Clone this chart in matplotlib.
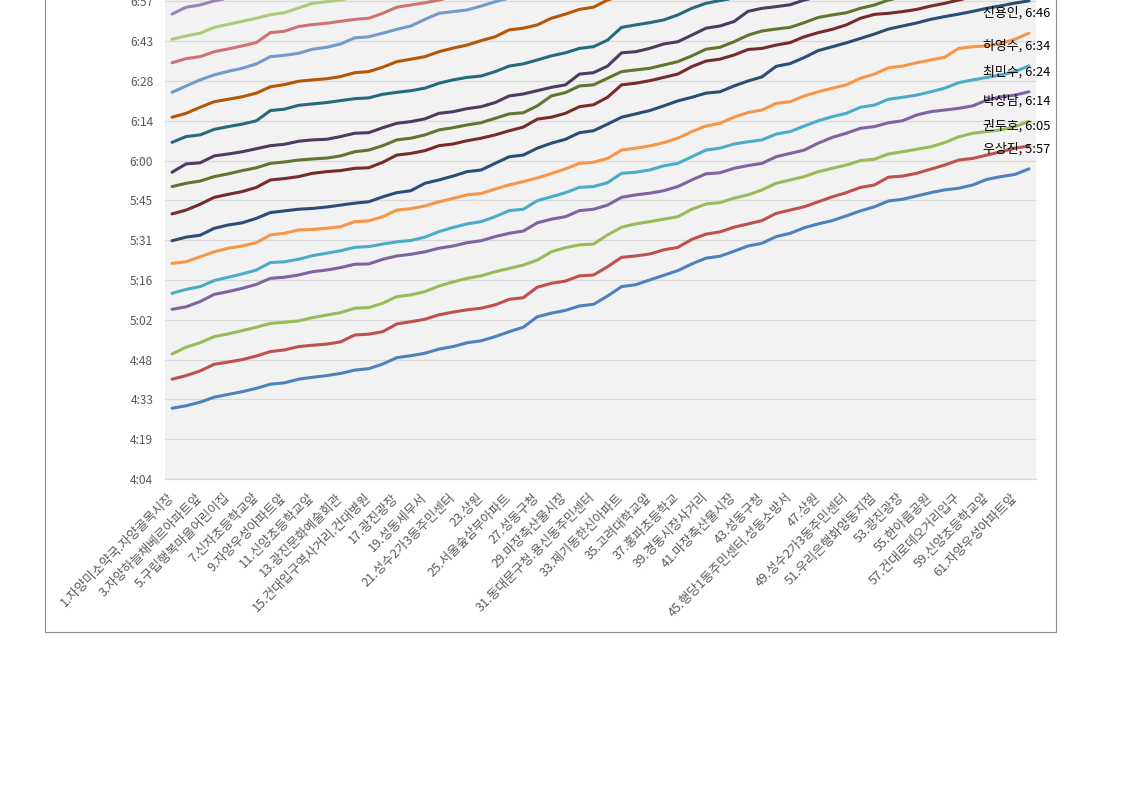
import matplotlib
matplotlib.use("Agg")
import matplotlib.pyplot as plt
from matplotlib.patches import Rectangle
from matplotlib.ticker import FuncFormatter, MultipleLocator

plt.rcParams['font.family'] = ['Noto Sans CJK KR', 'DejaVu Sans']

# stop labels (only odd-numbered stops are labelled on the axis)
stop_labels = [
    "1.자양미소약국.자양골목시장", "3.자양하늘채베르아파트앞", "5.구립행복마을어린이집",
    "7.신자초등학교앞", "9.자양우성아파트앞", "11.신양초등학교앞", "13.광진문화예술회관",
    "15.건대입구역사거리.건대병원", "17.광진광장", "19.성동세무서", "21.성수2가3동주민센터",
    "23.상원", "25.서울숲삼부아파트", "27.성동구청", "29.마장축산물시장",
    "31.동대문구청.용신동주민센터", "33.제기동한신아파트", "35.고려대학교앞", "37.홍파초등학교",
    "39.경동시장사거리", "41.마장축산물시장", "43.성동구청", "45.행당1동주민센터.성동소방서",
    "47.상원", "49.성수2가3동주민센터", "51.우리은행화양동지점", "53.광진광장", "55.한아름공원",
    "57.건대로데오거리입구", "59.신양초등학교앞", "61.자양우성아파트앞",
]
n_stops = 62

# arrival times in minutes after midnight, per bus run (bottom run first);
# runs that leave the top of the picture are only given up to that point
run1 = [270.4, 271.3, 272.6, 274.4, 275.4, 276.4, 277.6, 279.1, 279.6, 280.9,
        281.6, 282.2, 283.0, 284.2, 284.7, 286.4, 288.7, 289.4, 290.3, 291.8,
        292.7, 294.1, 294.8, 296.3, 298.1, 299.7, 303.5, 304.8, 305.8, 307.4,
        308.0, 311.0, 314.4, 315.1, 316.8, 318.5, 320.2, 322.6, 324.7, 325.4,
        327.2, 329.1, 330.1, 332.5, 333.7, 335.7, 337.1, 338.3, 340.0, 341.8,
        343.3, 345.4, 346.0, 347.2, 348.4, 349.4, 350.0, 351.2, 353.2, 354.2,
        355.0, 357.0]
run2 = [280.9, 282.2, 283.9, 286.3, 287.1, 288.0, 289.3, 290.9, 291.5, 292.7,
        293.2, 293.6, 294.4, 296.9, 297.2, 298.1, 300.9, 301.7, 302.6, 304.2,
        305.2, 306.0, 306.6, 307.8, 309.8, 310.4, 314.2, 315.6, 316.4, 318.3,
        318.6, 321.6, 325.0, 325.5, 326.2, 327.7, 328.6, 331.5, 333.4, 334.2,
        335.9, 337.1, 338.3, 340.9, 342.1, 343.3, 345.1, 346.9, 348.4, 350.3,
        351.2, 354.0, 354.4, 355.4, 356.9, 358.4, 360.2, 360.8, 362.0, 363.2,
        364.5, 365.3]
run3 = [290.0, 292.5, 294.1, 296.3, 297.3, 298.5, 299.7, 301.1, 301.5, 302.0,
        303.2, 304.1, 305.0, 306.6, 306.8, 308.4, 310.8, 311.4, 312.6, 314.6,
        316.1, 317.4, 318.3, 319.8, 321.0, 322.2, 324.0, 327.0, 328.5, 329.5,
        329.8, 333.1, 335.9, 337.1, 337.9, 338.8, 339.7, 342.4, 344.3, 344.8,
        346.4, 347.6, 349.4, 351.8, 353.0, 354.2, 356.0, 357.2, 358.4, 360.0,
        360.5, 362.4, 363.2, 364.1, 365.0, 366.5, 368.6, 369.9, 370.5, 371.1,
        372.3, 374.2]
run4 = [306.2, 307.1, 309.0, 311.6, 312.6, 313.8, 315.2, 317.4, 317.8, 318.6,
        319.8, 320.4, 321.3, 322.5, 322.6, 324.3, 325.5, 326.1, 327.0, 328.3,
        329.1, 330.3, 331.0, 332.5, 333.7, 334.5, 337.5, 338.8, 339.7, 341.9,
        342.4, 343.9, 346.7, 347.6, 348.2, 349.1, 350.6, 353.0, 355.2, 355.6,
        357.2, 358.2, 359.0, 361.4, 362.6, 363.8, 366.3, 368.4, 369.9, 371.7,
        372.3, 373.7, 374.4, 376.5, 377.7, 378.3, 378.9, 379.8, 381.9, 383.1,
        383.7, 384.9]
run5 = [312.0, 313.4, 314.4, 316.6, 317.8, 319.0, 320.4, 323.1, 323.4, 324.3,
        325.6, 326.5, 327.4, 328.6, 328.9, 329.8, 330.6, 331.1, 332.3, 334.3,
        335.8, 337.1, 337.9, 339.7, 341.9, 342.4, 345.5, 346.9, 348.4, 350.3,
        350.6, 352.0, 355.4, 355.8, 356.6, 358.1, 359.0, 361.4, 363.8, 364.5,
        366.0, 366.8, 367.5, 369.6, 370.5, 372.5, 374.4, 375.9, 377.1, 379.3,
        380.1, 382.2, 382.9, 383.7, 384.9, 386.2, 388.2, 389.2, 390.1, 391.0,
        392.2, 394.3]
run6 = [322.8, 323.4, 325.2, 327.0, 328.3, 329.1, 330.3, 333.1, 333.7, 334.9,
        335.1, 335.5, 336.1, 337.9, 338.2, 339.7, 342.1, 342.6, 343.6, 345.1,
        346.3, 347.6, 348.1, 349.7, 351.2, 352.4, 353.7, 355.3, 357.0, 359.0,
        359.4, 360.8, 363.8, 364.5, 365.3, 366.5, 368.1, 370.5, 372.5, 373.5,
        375.7, 377.4, 378.3, 380.7, 381.3, 383.4, 384.9, 386.2, 387.4, 389.8,
        391.3, 393.6, 394.2, 395.4, 396.4, 397.4, 400.6, 401.2, 401.5, 402.4,
        403.9, 406.1]
run7 = [331.0, 332.3, 333.0, 335.5, 336.7, 337.5, 339.1, 341.2, 341.8, 342.4,
        342.7, 343.2, 343.9, 344.6, 345.1, 346.9, 348.4, 349.1, 351.8, 353.0,
        354.4, 356.0, 356.6, 359.0, 361.4, 362.0, 364.5, 366.3, 367.7, 370.1,
        370.8, 373.2, 375.7, 376.9, 378.1, 379.8, 381.6, 382.9, 384.4, 384.9,
        387.0, 388.8, 390.3, 394.1, 395.1, 397.3, 399.8, 401.2, 402.6, 404.2,
        405.8, 407.6, 408.7, 409.8, 411.1, 412.1, 413.0, 414.0, 415.1, 416.0,
        417.0, 417.8]
run8 = [340.7, 342.1, 344.2, 346.7, 347.8, 348.8, 350.3, 353.0, 353.5, 354.2,
        355.4, 356.0, 356.4, 357.2, 357.4, 359.4, 362.0, 362.6, 363.6, 365.4,
        366.0, 367.2, 368.1, 369.3, 370.8, 372.1, 375.0, 375.7, 377.1, 379.5,
        380.2, 382.9, 387.4, 388.0, 388.9, 390.1, 391.3, 394.0, 396.0, 396.7,
        398.2, 400.2, 400.6, 401.8, 402.7, 404.8, 406.3, 407.5, 409.1, 411.5,
        412.9, 413.3, 413.9, 414.7, 415.9, 416.9, 418.1, 419.2]
run9 = [350.6, 351.8, 352.6, 354.2, 355.2, 356.4, 357.4, 359.0, 359.5, 360.2,
        360.6, 360.9, 361.7, 363.2, 363.8, 365.4, 367.5, 368.1, 369.3, 371.1,
        371.9, 372.9, 373.7, 375.3, 376.9, 377.3, 379.8, 383.4, 384.6, 387.0,
        387.4, 389.8, 392.2, 392.8, 393.4, 394.6, 395.8, 397.9, 400.3, 401.0,
        403.0, 405.4, 406.9, 407.6, 408.2, 409.9, 411.8, 412.7, 413.5, 415.1,
        416.3, 418.1, 419.2]
run10 = [355.8, 358.8, 359.2, 361.7, 362.4, 363.2, 364.3, 365.4, 365.9, 367.0,
         367.5, 367.7, 368.7, 369.9, 370.1, 371.9, 373.5, 374.1, 375.1, 377.1,
         377.7, 378.8, 379.5, 381.0, 383.4, 384.1, 385.3, 386.5, 387.4, 391.3,
         391.8, 394.2, 399.0, 399.4, 400.6, 402.2, 403.0, 405.4, 407.9, 408.7,
         410.3, 414.0, 415.1, 415.7, 416.4, 418.1, 419.2]
run11 = [366.6, 368.7, 369.3, 371.3, 372.3, 373.2, 374.4, 378.1, 378.6, 380.0,
         380.5, 381.0, 381.7, 382.4, 382.7, 384.0, 384.7, 385.3, 386.2, 388.0,
         389.2, 390.1, 390.6, 392.2, 394.2, 395.0, 396.4, 397.9, 399.0, 400.6,
         401.2, 403.6, 408.2, 409.1, 409.9, 410.9, 412.7, 415.1, 416.9, 417.9,
         418.8]
run12 = [375.7, 377.1, 379.3, 381.3, 382.2, 383.1, 384.4, 386.7, 387.5, 388.7,
         389.2, 389.6, 390.4, 391.8, 392.2, 393.8, 395.8, 396.7, 397.6, 399.4,
         400.7, 401.8, 403.4, 404.8, 407.3, 407.9, 409.1, 411.5, 413.0, 414.7,
         415.5, 418.1, 419.6]
run13 = [384.7, 387.0, 389.2, 391.0, 392.3, 393.4, 395.0, 397.6, 398.1, 398.8,
         400.3, 401.0, 402.2, 404.4, 404.8, 406.1, 407.5, 408.7, 411.1, 413.3,
         413.9, 414.5, 415.9, 417.5, 418.8]
run14 = [395.4, 396.9, 397.6, 399.4, 400.4, 401.5, 402.7, 406.3, 406.8, 408.5,
         409.2, 409.7, 410.4, 411.1, 411.5, 413.3, 415.5, 416.3, 417.1, 418.1,
         419.2]
run15 = [403.9, 405.1, 406.1, 408.2, 409.3, 410.4, 411.5, 412.8, 413.5, 415.2,
         416.9, 417.5, 418.1, 419.2]
run16 = [413.0, 415.5, 416.3, 417.8, 418.8]

runs = [run1, run2, run3, run4, run5, run6, run7, run8,
        run9, run10, run11, run12, run13, run14, run15, run16]
# drivers of the runs whose end labels are visible
drivers = ["우상진", "권두호", "박상남", "최민수", "하영수", "신용인"]

colors = ["#4F81BD", "#C0504D", "#9BBB59", "#8064A2", "#4BACC6", "#F79646",
          "#2C4D75", "#772C2A", "#5F7530", "#4D3B62", "#276A7C", "#B65708",
          "#729ACA", "#CD7371", "#AFC97A", "#9983B5"]


def hm(v, pos=None):
    s = int(round(v * 86400))
    return f"{s // 3600}:{(s % 3600) // 60:02d}"


W, H = 1122, 793
fig = plt.figure(figsize=(W / 100, H / 100), dpi=100)
fig.patch.set_facecolor("white")

# chart area border (top is outside the picture)
fig.add_artist(Rectangle((45 / W, (H - 632) / H), (1056 - 45) / W, 1.0,
                         transform=fig.transFigure, fill=False,
                         edgecolor="#8C8C8C", linewidth=0.8))

ymin, ymax = 0.17, 0.30
px_per_unit = 3980
ax_h = (ymax - ymin) * px_per_unit / H
ax = fig.add_axes([165 / W, (H - 479) / H, (1036 - 165) / W, ax_h])
ax.set_facecolor("#F2F2F2")

for k, run in enumerate(runs):
    days = [m / 1440 for m in run]
    ax.plot(range(len(days)), days, color=colors[k], lw=2.2,
            solid_joinstyle="round", solid_capstyle="round", zorder=3)
    if k < len(drivers):
        ax.annotate(f"{drivers[k]}, {hm(days[-1])}", xy=(len(days) - 1, days[-1]),
                    xytext=(-12.5, 20), textcoords="offset pixels",
                    ha="center", va="center", fontsize=9.3, color="#000000",
                    zorder=4, annotation_clip=False)

ax.set_xlim(-0.5, n_stops - 0.5)
ax.set_ylim(ymin, ymax)
ax.yaxis.set_major_locator(MultipleLocator(0.01))
ax.yaxis.set_major_formatter(FuncFormatter(hm))
ax.grid(axis="y", color="#D9D9D9", lw=0.9, zorder=0)
ax.set_axisbelow(True)

ax.set_xticks(range(0, n_stops - 1, 2))
ax.set_xticklabels(stop_labels, rotation=45, ha="right", va="center",
                   rotation_mode="anchor")
ax.tick_params(axis="x", length=0, pad=12, labelsize=9.2, colors="#595959")
ax.tick_params(axis="y", length=0, pad=8.5, labelsize=8.6, colors="#595959")

for side in ["top", "right", "left"]:
    ax.spines[side].set_visible(False)
ax.spines["bottom"].set_color("#D9D9D9")
ax.spines["bottom"].set_linewidth(0.9)

fig.savefig("out.png", dpi=100)
